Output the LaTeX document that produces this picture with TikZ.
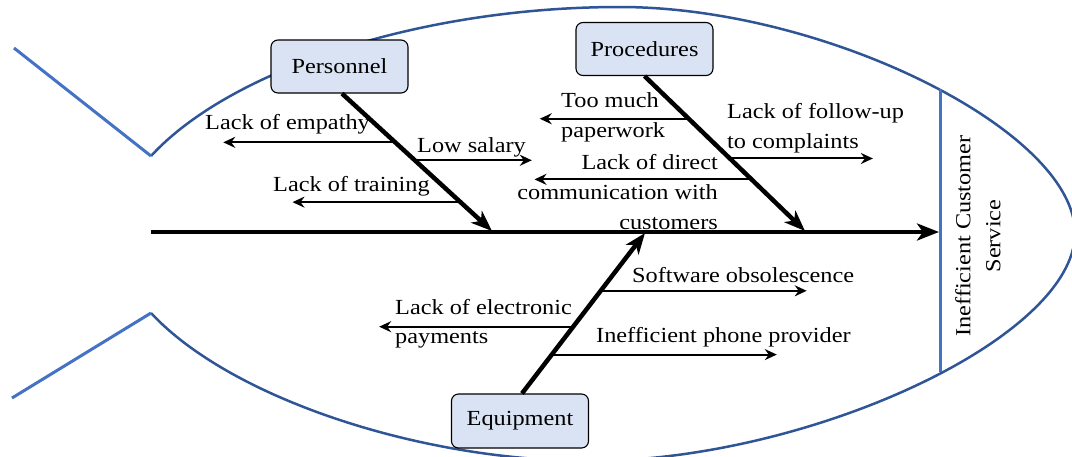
\documentclass[tikz,border=0pt]{standalone}
\usepackage{fontspec}
\setmainfont[FakeStretch=1.13]{Liberation Serif}
\usetikzlibrary{arrows.meta,calc}
\definecolor{tailblue}{RGB}{68,114,196}
\definecolor{bodyblue}{RGB}{47,85,151}
\definecolor{boxfill}{RGB}{218,227,243}
\begin{document}
\begin{tikzpicture}[x=1pt,y=-1pt,
  lbl/.style={inner sep=0pt, font=\fontsize{21.5}{30}\selectfont},
  catbox/.style={draw=black, line width=1.1pt, rounded corners=7pt, fill=boxfill,
    minimum width=137pt, minimum height=53pt, inner sep=0pt, font=\fontsize{21.5}{30}\selectfont},
  bone/.style={line width=4.5pt, -{Stealth[length=21pt,width=16pt,inset=6pt]}},
  spine/.style={line width=4.5pt, -{Stealth[length=22pt,width=17pt,inset=6pt]}},
  twig/.style={line width=2pt, -{Stealth[length=12pt,width=11pt,inset=4pt]}},
  outline/.style={draw=bodyblue, line width=2.5pt},
  tailline/.style={draw=tailblue, line width=3pt},
]
\useasboundingbox (0,0) rectangle (1072,456);
\fill[white] (0,0) rectangle (1072,456);

% tail joints and tips
\coordinate (tj1) at (151,156);
\coordinate (tj2) at (151,313);
\coordinate (tt1) at (14,48);
\coordinate (tt2) at (12,398);
\coordinate (btop) at (620,7);
\coordinate (btip) at (1075,233);
\coordinate (bbot) at (590,461);

% fish body
\draw[outline] (tj1) .. controls (230,70) and (420,7) .. (btop)
  .. controls (825,7) and (1075,131) .. (btip)
  .. controls (1075,338) and (808,461) .. (bbot)
  .. controls (420,461) and (230,398) .. (tj2);
% tail
\draw[tailline] (tt1) -- (tj1);
\draw[tailline] (tj2) -- (tt2);

% head line
\coordinate (vt) at (940,89);
\coordinate (vb) at (940,372);
\draw[tailline] (vt) -- (vb);
\node[lbl, rotate=90, align=center] (effect) at (978,236) {Inefficient Customer\\Service};

% spine
\coordinate (sp0) at (151,232);
\coordinate (sp1) at (939,232);
\draw[spine] (sp0) -- (sp1);

% category boxes
\node[catbox] (pers) at (339.5,66.5) {Personnel};
\node[catbox] (proc) at (644.5,49) {Procedures};
\node[catbox, minimum height=54pt] (equip) at (520,421) {Equipment};

% bones
\coordinate (ps) at ([xshift=2.5pt]pers.south);
\coordinate (pt) at (492,231);
\coordinate (qs) at (proc.south);
\coordinate (qt) at (805,231);
\coordinate (es) at ([xshift=2pt]equip.north);
\coordinate (et) at (645,233);
\draw[bone] (ps) -- (pt);
\draw[bone] (qs) -- (qt);
\draw[bone] (es) -- (et);

% Personnel causes
\draw[twig] ($(ps)!0.355!(pt)$) -- ++(-172,0);
\draw[twig] ($(ps)!0.4855!(pt)$) -- ++(117,0);
\draw[twig] ($(ps)!0.79!(pt)$) -- ++(-168,0);
\node[lbl, anchor=base west] (c1) at (205,129) {Lack of empathy};
\node[lbl, anchor=base west] (c2) at (417,152) {Low salary};
\node[lbl, anchor=base west] (c3) at (273,191) {Lack of training};

% Procedures causes
\draw[twig] ($(qs)!0.2756!(qt)$) -- ++(-149,0);
\draw[twig] ($(qs)!0.532!(qt)$) -- ++(143,0);
\draw[twig] ($(qs)!0.6667!(qt)$) -- ++(-217,0);
\node[lbl, anchor=base west] (c4a) at (561,107) {Too much};
\node[lbl, anchor=base west] (c4b) at (561,137) {paperwork};
\node[lbl, anchor=base west] (c5a) at (727,118) {Lack of follow-up};
\node[lbl, anchor=base west] (c5b) at (727,148) {to complaints};
\node[lbl, anchor=base east] (c6a) at (718,169) {Lack of direct};
\node[lbl, anchor=base east] (c6b) at (718,199) {communication with};
\node[lbl, anchor=base east] (c6c) at (718,229) {customers};

% Equipment causes
\draw[twig] ($(es)!0.6398!(et)$) -- ++(206,0);
\draw[twig] ($(es)!0.416!(et)$) -- ++(-194,0);
\draw[twig] ($(es)!0.2422!(et)$) -- ++(225,0);
\node[lbl, anchor=base west] (c7) at (632,282) {Software obsolescence};
\node[lbl, anchor=base west] (c8a) at (395,314) {Lack of electronic};
\node[lbl, anchor=base west] (c8b) at (395,343) {payments};
\node[lbl, anchor=base west] (c9) at (596,342) {Inefficient phone provider};
\end{tikzpicture}
\end{document}
